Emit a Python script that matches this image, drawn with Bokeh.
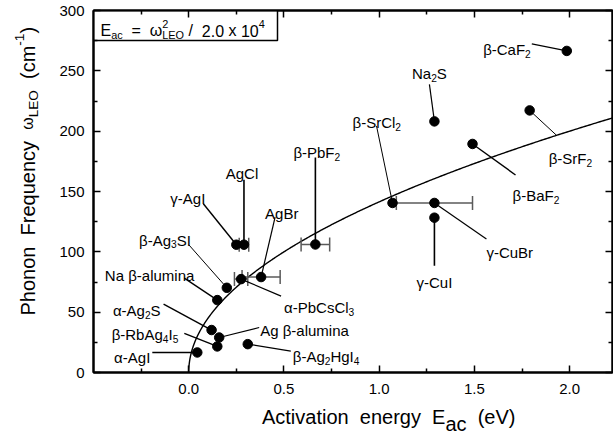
import numpy as np
from bokeh.plotting import figure
from bokeh.layouts import row, column
from bokeh.models import (Range1d, FixedTicker, LinearAxis, Label,
                          ColumnDataSource, CustomJSTickFormatter)
from bokeh.embed import file_html
from bokeh.resources import INLINE

# ---------------- data ----------------
materials = ["α-AgI", "β-RbAg4I5", "Ag β-alumina", "α-Ag2S", "Na β-alumina",
             "β-Ag3SI", "α-PbCsCl3", "AgBr", "γ-AgI", "AgCl", "β-PbF2",
             "β-Ag2HgI4", "β-SrCl2", "γ-CuBr", "γ-CuI", "Na2S", "β-BaF2",
             "β-SrF2", "β-CaF2"]
activation_energy = [0.045, 0.15, 0.16, 0.12, 0.15, 0.20, 0.275, 0.38, 0.25,
                     0.29, 0.665, 0.31, 1.07, 1.29, 1.29, 1.29, 1.49, 1.79, 1.985]
phonon_frequency = [16.6, 21.6, 29.0, 35.2, 60.0, 70.2, 77.4, 79.1, 105.9,
                    105.9, 106.1, 23.5, 140.5, 140.5, 128.3, 208.1, 189.4,
                    217.2, 266.5]
energy_error = [0, 0, 0, 0, 0, 0, 0.035, 0.1, 0, 0.025, 0.075, 0, 0, 0.2,
                0, 0, 0, 0, 0]
fit_constant = 2.0e4   # E_ac = omega^2 / 2.0 x 10^4

x_ticks = [0.0, 0.5, 1.0, 1.5, 2.0]
x_tick_labels = ["0.0", "0.5", "1.0", "1.5", "2.0"]
x_minor_ticks = [-0.25, 0.25, 0.75, 1.25, 1.75]
y_ticks = [0, 50, 100, 150, 200, 250, 300]
y_tick_labels = ["0", "50", "100", "150", "200", "250", "300"]
y_minor_ticks = [25, 75, 125, 175, 225, 275]

# ---------------- layout (page px) ----------------
TOTAL_W, TOTAL_H = 613, 434
YLAB_W = 40                      # strip holding the y title
MAIN_W, MAIN_H = TOTAL_W - YLAB_W, 403
XLAB_H = TOTAL_H - MAIN_H        # strip holding the x title
FRAME_L, FRAME_R, FRAME_T, FRAME_B = 93, 612, 10, 372   # page px
X0, X1, Y0, Y1 = -0.5, 2.225, 0.0, 300.0
SX = (X1 - X0) / (FRAME_R - FRAME_L)     # data per px
SY = (Y1 - Y0) / (FRAME_B - FRAME_T)


def fx(px):   # page px -> data x (main plot)
    return X0 + (px - FRAME_L) * SX


def fy(py):   # page px -> data y (main plot)
    return Y0 + (FRAME_B - py) * SY


# name: (align, label dx, label dy(center), leader dx, leader dy, leader width)
label_layout = {
    "α-AgI":        ("right", -47, 0, -45, 0, 1.4),
    "β-RbAg4I5":    ("right", -39, -17, -33, -13, 1.4),
    "α-Ag2S":       ("right", -51, -25, -48, -26, 1.4),
    "Na β-alumina": ("right", -23, -30, -33, -22, 1.4),
    "β-Ag3SI":      ("right", -36, -53, -38, -43, 1.0),
    "γ-AgI":        ("right", -31, -52, -33, -41, 1.4),
    "AgCl":         ("center", -2, -77, 0, -65, 1.6),
    "AgBr":         ("left", 4, -69, 14, -60, 1.2),
    "β-PbF2":       ("left", -22, -97, 0, -87, 1.6),
    "α-PbCsCl3":    ("left", 43, 23, 40, 17, 1.2),
    "Ag β-alumina": ("left", 41, -12, 40, -10, 1.2),
    "β-Ag2HgI4":    ("left", 45, 7, 43, 7, 1.2),
    "β-SrCl2":      ("left", -40, -86, -16, -77, 1.0),
    "γ-CuBr":       ("left", 52, 44, 52, 36, 1.2),
    "γ-CuI":        ("center", 0, 59, 0, 48, 1.6),
    "Na2S":         ("center", -5, -53, -5, -37, 1.2),
    "β-BaF2":       ("left", 40, 46, 43, 31, 1.4),
    "β-SrF2":       ("left", 19, 43, 27, 25, 1.0),
    "β-CaF2":       ("right", -36, -7, -35, -7, 1.2),
}

FONT = "Liberation Sans"
W = {' ': 278, '-': 333, '.': 278, '(': 333, ')': 333, '=': 584, '/': 278,
     'A': 667, 'B': 667, 'C': 722, 'D': 722, 'E': 667, 'F': 611, 'G': 778,
     'H': 722, 'I': 278, 'L': 556, 'N': 722, 'O': 778, 'P': 667, 'R': 722,
     'S': 667, 'a': 556, 'b': 556, 'c': 500, 'e': 556, 'g': 556, 'i': 222,
     'l': 222, 'm': 833, 'n': 556, 'o': 556, 'q': 556, 'r': 333, 's': 500,
     't': 278, 'u': 556, 'v': 500, 'x': 500, 'y': 500,
     'α': 578, 'β': 575, 'γ': 500, 'ω': 780}
for d in "0123456789":
    W[d] = 556

# kind: (scale, baseline shift in em (down +), advances)
KINDS = {'n': (1.0, 0.0, True), 'b': (0.68, 0.28, True),
         'p': (0.68, -0.42, True), 'q': (0.68, -0.42, False),
         'B': (1.0, 0.38, True), 's': (0.8, 0.0, True)}


def tw(s, fs):
    return sum(W.get(ch, 556) for ch in s) / 1000.0 * fs


def rich(p, x, y, segs, size, align="left", dx=0.0, dy=0.0, vertical=False):
    """Lay out text pieces; (dx, dy) = baseline anchor offset in px (dy down)."""
    items = []
    pos = 0.0
    for text, kind in segs:
        scale, shift, adv = KINDS[kind]
        fs = size * scale
        start = pos
        for i, w in enumerate(text.split(" ")):
            if i > 0:
                pos += tw(" ", fs)
            if w:
                items.append((w, fs, pos, shift * size))
                pos += tw(w, fs)
        if not adv:
            pos = start
    total = pos
    base = {"left": 0.0, "center": -total / 2, "right": -total}[align]
    for w, fs, ps, sh in items:
        along = base + ps
        if vertical:
            ox, oy, ang = dx + sh, dy - along, np.pi / 2
        else:
            ox, oy, ang = dx + along, dy + sh, 0.0
        p.add_layout(Label(x=x, y=y, x_offset=ox, y_offset=-oy, text=w,
                           angle=ang, text_font=FONT,
                           text_font_size=f"{fs:.1f}px", text_color="black",
                           text_align="left", text_baseline="alphabetic"))


def name_segments(name):
    segs = []
    for ch in name:
        kind = 'b' if ch.isdigit() else 'n'
        if segs and segs[-1][1] == kind:
            segs[-1] = (segs[-1][0] + ch, kind)
        else:
            segs.append((ch, kind))
    return segs


def strip_fig(w, h):
    f = figure(width=w, height=h, x_range=Range1d(0, w), y_range=Range1d(h, 0),
               x_axis_type=None, y_axis_type=None, output_backend="svg",
               toolbar_location=None, min_border=0)
    f.outline_line_color = None
    f.grid.visible = False
    f.background_fill_color = "white"
    f.border_fill_color = "white"
    return f


# ---------------- main figure ----------------
p = figure(width=MAIN_W, height=MAIN_H, x_range=Range1d(X0, X1),
           y_range=Range1d(Y0, Y1), output_backend="svg",
           toolbar_location=None,
           min_border_left=FRAME_L - YLAB_W,
           min_border_right=YLAB_W + MAIN_W - FRAME_R,
           min_border_top=FRAME_T,
           min_border_bottom=MAIN_H - FRAME_B)
p.xgrid.visible = False
p.ygrid.visible = False
p.outline_line_color = "black"
p.outline_line_width = 2
p.background_fill_color = "white"
p.border_fill_color = "white"

FMT_CODE = """
const i = tvals.findIndex(t => Math.abs(t - tick) < 1e-9);
return i >= 0 ? tlabels[i] : '';"""
x_fmt = CustomJSTickFormatter(args=dict(tvals=x_ticks, tlabels=x_tick_labels),
                              code=FMT_CODE)
y_fmt = CustomJSTickFormatter(args=dict(tvals=y_ticks, tlabels=y_tick_labels),
                              code=FMT_CODE)
blank_fmt = CustomJSTickFormatter(code="return '';")


def style_axis(ax, labels=True, standoff=8):
    ax.axis_line_width = 2
    ax.axis_line_color = "black"
    ax.major_tick_in = 7
    ax.major_tick_out = 0
    ax.minor_tick_in = 4
    ax.minor_tick_out = 0
    ax.major_tick_line_width = 1.5
    ax.minor_tick_line_width = 1.5
    ax.major_tick_line_color = "black"
    ax.minor_tick_line_color = "black"
    if labels:
        ax.major_label_text_font = FONT
        ax.major_label_text_font_size = "15px"
        ax.major_label_text_color = "black"
        ax.major_label_standoff = standoff
    else:
        ax.formatter = blank_fmt
        ax.major_label_text_font_size = "1px"
        ax.major_label_text_color = None
        ax.major_label_standoff = 0


p.xaxis.ticker = FixedTicker(ticks=x_ticks, minor_ticks=x_minor_ticks)
p.xaxis.formatter = x_fmt
p.yaxis.ticker = FixedTicker(ticks=y_ticks, minor_ticks=y_minor_ticks)
p.yaxis.formatter = y_fmt
style_axis(p.xaxis[0], True, 11)
style_axis(p.yaxis[0], True, 9)

top_ax = LinearAxis(ticker=FixedTicker(ticks=x_ticks, minor_ticks=x_minor_ticks))
right_ax = LinearAxis(ticker=FixedTicker(ticks=y_ticks, minor_ticks=y_minor_ticks))
style_axis(top_ax, False)
style_axis(right_ax, False)
p.add_layout(top_ax, "above")
p.add_layout(right_ax, "right")

# fit curve E = omega^2 / fit_constant
e_curve = (np.linspace(0, 1, 400) ** 2) * X1
p.line(e_curve, np.sqrt(fit_constant * e_curve), line_color="black",
       line_width=1.4)

# error bars
E = np.array(activation_energy)
Om = np.array(phonon_frequency)
Er = np.array(energy_error)
m = Er > 0
p.segment(E[m] - Er[m], Om[m], E[m] + Er[m], Om[m], line_color="#5a5a5a",
          line_width=1.5)
caps_x = np.concatenate([E[m] - Er[m], E[m] + Er[m]])
caps_y = np.concatenate([Om[m], Om[m]])
p.scatter(caps_x, caps_y, marker="dash", angle=np.pi / 2, size=14,
          line_color="#5a5a5a", line_width=1.5)

# leader lines
lx0, ly0, lx1, ly1, lw = [], [], [], [], []
for n, e, o in zip(materials, activation_energy, phonon_frequency):
    al, dx, dy, ldx, ldy, w = label_layout[n]
    lx0.append(e)
    ly0.append(o)
    lx1.append(e + ldx * SX)
    ly1.append(o - ldy * SY)
    lw.append(w)
p.segment(x0="x0", y0="y0", x1="x1", y1="y1", line_width="w", line_color="black",
          source=ColumnDataSource(dict(x0=lx0, y0=ly0, x1=lx1, y1=ly1, w=lw)))

# points
p.scatter(activation_energy, phonon_frequency, size=9.5, fill_color="black",
          line_color="black")

# point labels
LBL = 15
for n, e, o in zip(materials, activation_energy, phonon_frequency):
    al, dx, dy, ldx, ldy, w = label_layout[n]
    rich(p, e, o, name_segments(n), LBL, align=al, dx=dx, dy=dy + 0.36 * LBL)

# formula box
p.quad(left=[fx(93)], right=[fx(277)], bottom=[fy(FRAME_T + 30)],
       top=[fy(FRAME_T)], fill_color="white", line_color="black",
       line_width=1.5)
rich(p, fx(100), fy(FRAME_T + 20), [("E", 'n'), ("ac", 'b'), ("  =  ", 'n'),
                                    ("ω", 'n'), ("2", 'q'), ("LEO", 'b'),
                                    (" /  2.0 x 10", 'n'), ("4", 'p')], 16)

# ---------------- axis titles (separate strips) ----------------
ylab = strip_fig(YLAB_W, TOTAL_H)
rich(ylab, 27, 315,
     [("Phonon  Frequency  ", 'n'), ("ω", 's'), ("LEO", 'b'),
      ("  (cm", 'n'), ("-1", 'p'), (")", 'n')], 20, vertical=True)

xlab = strip_fig(MAIN_W, XLAB_H)
rich(xlab, 226 - YLAB_W, 416 - MAIN_H,
     [("Activation  energy  E", 'n'), ("ac", 'B'), ("  (eV)", 'n')], 20)

layout = row(ylab, column(p, xlab, spacing=0), spacing=0)
open("out.html", "w").write(file_html(layout, INLINE))
